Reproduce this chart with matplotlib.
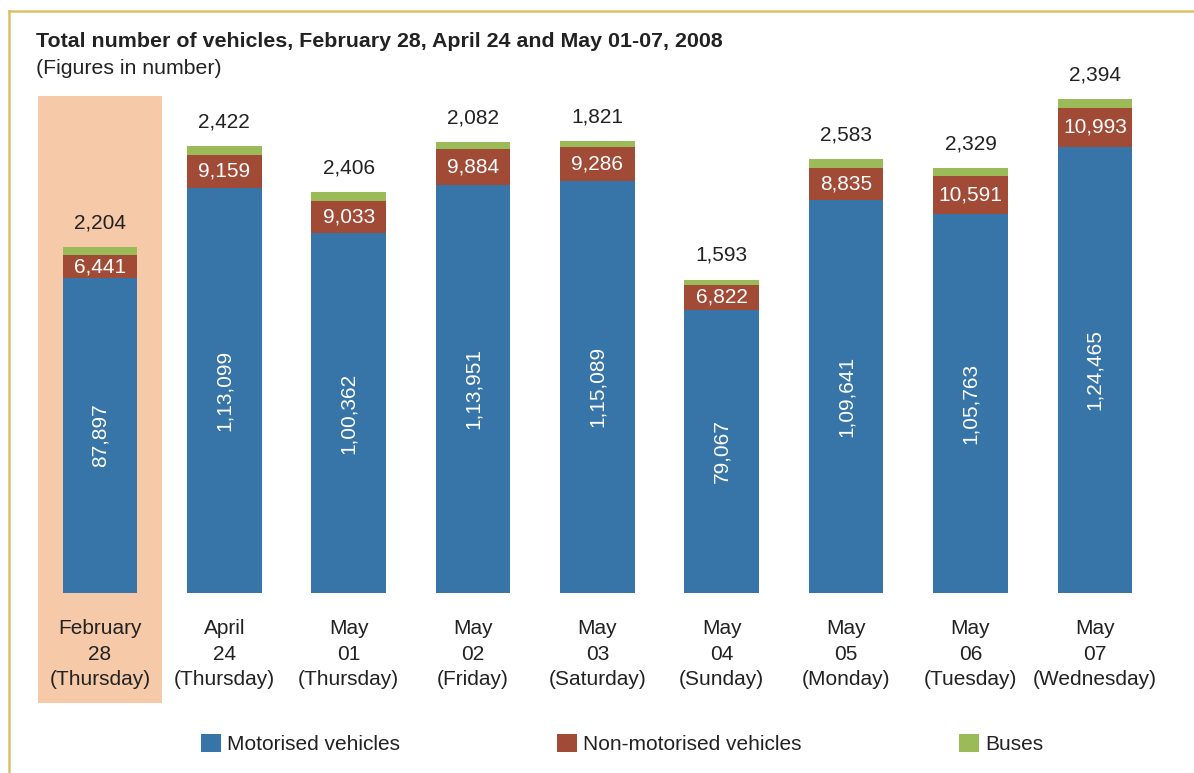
import matplotlib
matplotlib.use("Agg")
import matplotlib.pyplot as plt
from matplotlib.patches import Rectangle, Patch
from matplotlib.lines import Line2D
import matplotlib.transforms as mtransforms

plt.rcParams['font.family'] = ['Liberation Sans', 'DejaVu Sans']

# Data
dates = ["February\n28\n(Thursday)", "April\n24\n(Thursday)", "May\n01\n(Thursday)",
         "May\n02\n(Friday)", "May\n03\n(Saturday)", "May\n04\n(Sunday)",
         "May\n05\n(Monday)", "May\n06\n(Tuesday)", "May\n07\n(Wednesday)"]
motorised = [87897, 113099, 100362, 113951, 115089, 79067, 109641, 105763, 124465]
motorised_labels = ["87,897", "1,13,099", "1,00,362", "1,13,951", "1,15,089",
                    "79,067", "1,09,641", "1,05,763", "1,24,465"]
non_motorised = [6441, 9159, 9033, 9884, 9286, 6822, 8835, 10591, 10993]
buses = [2204, 2422, 2406, 2082, 1821, 1593, 2583, 2329, 2394]

blue = "#3775A9"
red = "#A14B37"
green = "#9BBB59"
peach = "#F6C9A9"
gold = "#DCC168"
txt = "#222222"

W, H = 1194, 773
fig = plt.figure(figsize=(W / 100, H / 100), dpi=100)
ax = fig.add_axes([37.8 / W, 1 - 593 / H, (1157 - 37.8) / W, (593 - 96) / H])

x = list(range(len(dates)))
ax.set_xlim(-0.5, len(dates) - 0.5)
ax.set_ylim(0, 138700)

# highlight for the reference day
trans = mtransforms.blended_transform_factory(ax.transData, fig.transFigure)
ax.add_patch(Rectangle((-0.5, 1 - 703 / H), 1.0, (703 - 96) / H, transform=trans,
                       facecolor=peach, edgecolor='none', clip_on=False, zorder=0))

width = 0.6
bottom2 = motorised
bottom3 = [m + n for m, n in zip(motorised, non_motorised)]
ax.bar(x, motorised, width, color=blue, zorder=2)
ax.bar(x, non_motorised, width, bottom=bottom2, color=red, zorder=2)
ax.bar(x, buses, width, bottom=bottom3, color=green, zorder=2)

for i in x:
    ax.text(i, motorised[i] / 2, motorised_labels[i], rotation=90, ha='center',
            va='center', color='white', fontsize=15, zorder=3)
    ax.text(i, motorised[i] + non_motorised[i] / 2, f"{non_motorised[i]:,}",
            ha='center', va='center', color='white', fontsize=15, zorder=3)
    ax.annotate(f"{buses[i]:,}", (i, bottom3[i] + buses[i]), xytext=(0, 10.5),
                textcoords='offset points', ha='center', va='bottom',
                color=txt, fontsize=15, zorder=3)

ax.set_xticks(x)
ax.set_xticklabels(dates, fontsize=15, color=txt, linespacing=1.42)
ax.tick_params(axis='x', length=0, pad=19)
ax.set_yticks([])
for s in ax.spines.values():
    s.set_visible(False)
ax.patch.set_visible(False)

# title
fig.text(36 / W, 1 - 47 / H, "Total number of vehicles, February 28, April 24 and May 01-07, 2008",
         fontsize=15.4, fontweight='bold', color=txt, va='baseline', ha='left')
fig.text(36 / W, 1 - 74 / H, "(Figures in number)", fontsize=15.3, color=txt,
         va='baseline', ha='left')

# legend
handles = [Patch(facecolor=blue), Patch(facecolor=red), Patch(facecolor=green)]
fig.legend(handles, ["Motorised vehicles", "Non-motorised vehicles", "Buses"],
           ncol=3, loc='center left', bbox_to_anchor=(201 / W, 1 - 744 / H),
           frameon=False, fontsize=15, handlelength=0.95, handleheight=0.95,
           handletextpad=0.3, columnspacing=7.55, borderpad=0, borderaxespad=0,
           labelcolor=txt)

# frame lines
fig.add_artist(Line2D([9 / W, 1], [1 - 11 / H, 1 - 11 / H], color=gold, lw=1.8,
                      transform=fig.transFigure))
fig.add_artist(Line2D([9 / W, 9 / W], [1 - 11 / H, 0], color=gold, lw=1.8,
                      transform=fig.transFigure))

fig.savefig("out.png", dpi=100, facecolor='white')
